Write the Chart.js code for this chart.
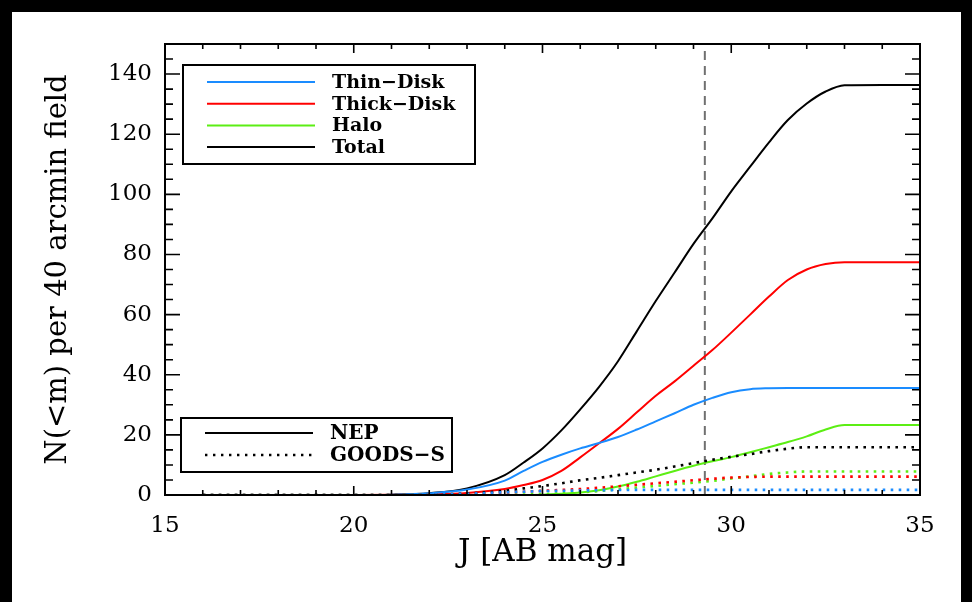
<!DOCTYPE html>
<html>
<head>
<meta charset="utf-8">
<script src="https://cdn.jsdelivr.net/npm/chart.js@4.4.1/dist/chart.umd.min.js"></script>
<style>
  html, body { margin: 0; padding: 0; background: #fff; overflow: hidden; }
  .bar { position: fixed; background: #000; }
  #barTop { left: 0; top: 0; width: 100%; height: 12px; }
  #barLeft { left: 0; top: 0; width: 12px; height: 100%; }
  #barRight { left: 961px; top: 0; right: 0; height: 100%; }
  #frame { position: absolute; left: 12px; top: 12px; width: 949px; height: 590px; }
  canvas { display: block; }
</style>
</head>
<body>
<div class="bar" id="barTop"></div>
<div class="bar" id="barLeft"></div>
<div class="bar" id="barRight"></div>
<div id="frame"><canvas id="countsChart" width="949" height="590"></canvas></div>
<script>
// Cumulative star counts N(<m) per 40 arcmin field, J band

const magnitudes = [16, 20, 21, 22, 23, 24, 24.5, 25, 25.5, 26, 26.5, 27, 27.5, 28, 28.5, 29, 29.5, 30, 30.5, 31, 31.5, 32, 32.5, 33, 34, 35];

// NEP field (solid)
const nepThin  = [0, 0, 0.1, 0.6, 1.8, 4.8, 8, 11, 13.4, 15.5, 17.3, 19.3, 21.8, 24.5, 27.2, 30, 32.3, 34.2, 35.2, 35.5, 35.6, 35.6, 35.6, 35.6, 35.6, 35.6];
const nepThick = [0, 0, 0.05, 0.2, 0.7, 2, 3.3, 5, 8, 12.5, 17.2, 22, 27.5, 33, 37.8, 43, 48.2, 54, 60, 66, 71.5, 75, 76.8, 77.4, 77.4, 77.4];
const nepHalo  = [0, 0, 0, 0, 0, 0, 0, 0.1, 0.4, 0.8, 1.6, 2.8, 4.4, 6.2, 8, 9.7, 11.2, 12.6, 14.2, 15.9, 17.6, 19.5, 21.8, 23.3, 23.3, 23.3];
const nepTotal = [0, 0, 0.1, 0.6, 2.2, 6.6, 10.8, 15.5, 21.5, 28.5, 36, 44.5, 54.5, 64.5, 74, 83.5, 92, 101, 109.2, 117.3, 124.7, 130.2, 134.2, 136.3, 136.4, 136.4];

// GOODS-S field (dotted)
const goodsThin  = [0, 0, 0, 0.1, 0.4, 0.9, 1.1, 1.3, 1.4, 1.5, 1.6, 1.65, 1.7, 1.7, 1.7, 1.7, 1.7, 1.7, 1.7, 1.7, 1.7, 1.7, 1.7, 1.7, 1.7, 1.7];
const goodsThick = [0, 0, 0, 0.05, 0.3, 0.8, 1.1, 1.4, 1.7, 2, 2.4, 2.9, 3.4, 3.9, 4.4, 4.9, 5.4, 5.8, 6, 6.1, 6.1, 6.1, 6.1, 6.1, 6.1, 6.1];
const goodsHalo  = [0, 0, 0, 0, 0, 0.05, 0.15, 0.3, 0.6, 0.9, 1.3, 1.9, 2.5, 3, 3.6, 4.1, 4.7, 5.5, 6.2, 7, 7.5, 7.8, 7.8, 7.8, 7.8, 7.8];
const goodsTotal = [0, 0, 0, 0.1, 0.5, 1.4, 2.2, 3, 3.9, 4.9, 5.7, 6.6, 7.5, 8.4, 9.5, 10.6, 11.7, 12.7, 13.6, 14.6, 15.4, 15.9, 15.9, 15.9, 15.9, 15.9];

// depth limit marked by the dashed line
const limitMag = 29.3;

const xTicks = [15, 20, 25, 30, 35];
const yTicks = [0, 20, 40, 60, 80, 100, 120, 140];

const componentLabels = ["Thin\u2212Disk", "Thick\u2212Disk", "Halo", "Total"];
const componentColors = ["#1a8cff", "#ff0000", "#5cee14", "#000000"];
const fieldLabels = ["NEP", "GOODS\u2212S"];

const SERIF = "'DejaVu Serif', 'Liberation Serif', serif";

function toPoints(values) {
  return magnitudes.map((m, i) => ({ x: m, y: values[i] }));
}

function makeDataset(values, color, dotted) {
  return {
    data: toPoints(values),
    borderColor: color,
    borderWidth: dotted ? 2.6 : 2,
    borderDash: dotted ? [2.6, 5.4] : [],
    pointRadius: 0,
    cubicInterpolationMode: "monotone",
    fill: false,
  };
}

// dashed limit line, drawn under the curves
const limitLine = {
  id: "limitLine",
  beforeDatasetsDraw(chart) {
    const { ctx, chartArea, scales } = chart;
    const x = scales.x.getPixelForValue(limitMag);
    ctx.save();
    ctx.strokeStyle = "#707070";
    ctx.lineWidth = 2;
    ctx.setLineDash([9, 6]);
    ctx.beginPath();
    ctx.moveTo(x, chartArea.bottom);
    ctx.lineTo(x, chartArea.top);
    ctx.stroke();
    ctx.restore();
  },
};

// box frame with inward ticks on all four sides
const axisFrame = {
  id: "axisFrame",
  afterDatasetsDraw(chart) {
    const { ctx, chartArea: a, scales } = chart;
    ctx.save();
    ctx.strokeStyle = "#000";
    ctx.lineWidth = 2;
    ctx.setLineDash([]);
    ctx.strokeRect(a.left, a.top, a.right - a.left, a.bottom - a.top);

    ctx.lineWidth = 1.6;
    ctx.beginPath();
    for (let v = 15; v <= 35; v += 1) {
      const x = scales.x.getPixelForValue(v);
      const len = xTicks.includes(v) ? 9 : 5;
      ctx.moveTo(x, a.bottom); ctx.lineTo(x, a.bottom - len);
      ctx.moveTo(x, a.top); ctx.lineTo(x, a.top + len);
    }
    for (let v = 0; v <= 150; v += 5) {
      const y = scales.y.getPixelForValue(v);
      const len = yTicks.includes(v) ? 15 : 8;
      ctx.moveTo(a.left, y); ctx.lineTo(a.left + len, y);
      ctx.moveTo(a.right, y); ctx.lineTo(a.right - len, y);
    }
    ctx.stroke();
    ctx.restore();
  },
};

function drawLegendBox(ctx, box, rows) {
  ctx.fillStyle = "#fff";
  ctx.fillRect(box.x, box.y, box.w, box.h);
  ctx.strokeStyle = "#000";
  ctx.lineWidth = 2;
  ctx.setLineDash([]);
  ctx.strokeRect(box.x, box.y, box.w, box.h);

  ctx.font = "bold " + box.fontSize + "px " + SERIF;
  ctx.textBaseline = "middle";
  ctx.textAlign = "left";
  rows.forEach((row, i) => {
    const y = box.y + box.first + i * box.step;
    ctx.strokeStyle = row.color;
    ctx.lineWidth = row.dotted ? 2.4 : 2;
    ctx.setLineDash(row.dotted ? [2.4, 5.6] : []);
    ctx.beginPath();
    ctx.moveTo(box.x + 24, y);
    ctx.lineTo(box.x + 132, y);
    ctx.stroke();
    ctx.fillStyle = "#000";
    ctx.fillText(row.label, box.x + 149, y + 1);
  });
}

const legendBoxes = {
  id: "legendBoxes",
  afterDraw(chart) {
    const ctx = chart.ctx;
    ctx.save();
    drawLegendBox(
      ctx,
      { x: 171, y: 53, w: 292, h: 99, first: 17, step: 21.7, fontSize: 19 },
      componentLabels.map((label, i) => ({ label, color: componentColors[i], dotted: false }))
    );
    drawLegendBox(
      ctx,
      { x: 169, y: 406, w: 271, h: 54, first: 15, step: 22, fontSize: 20 },
      fieldLabels.map((label, i) => ({ label, color: "#000", dotted: i === 1 }))
    );
    ctx.restore();
  },
};

function setupChart() {
  const canvas = document.getElementById("countsChart");
  if (!canvas) return;

  new Chart(canvas, {
    type: "line",
    data: {
      datasets: [
        makeDataset(goodsThin, componentColors[0], true),
        makeDataset(goodsThick, componentColors[1], true),
        makeDataset(goodsHalo, componentColors[2], true),
        makeDataset(goodsTotal, componentColors[3], true),
        makeDataset(nepThin, componentColors[0], false),
        makeDataset(nepThick, componentColors[1], false),
        makeDataset(nepHalo, componentColors[2], false),
        makeDataset(nepTotal, componentColors[3], false),
      ],
    },
    options: {
      responsive: false,
      animation: false,
      devicePixelRatio: 1,
      layout: { padding: { top: 32, right: 41, left: 0, bottom: 0 } },
      plugins: {
        legend: { display: false },
        tooltip: { enabled: false },
      },
      scales: {
        x: {
          type: "linear",
          min: 15,
          max: 35,
          afterBuildTicks: (scale) => { scale.ticks = xTicks.map((v) => ({ value: v })); },
          afterFit: (scale) => { scale.height = 107; },
          grid: { display: false, drawTicks: false },
          border: { display: false },
          ticks: { color: "#000", padding: 17, maxRotation: 0, font: { family: SERIF, size: 23 } },
          title: {
            display: true,
            text: "J [AB mag]",
            color: "#000",
            font: { family: SERIF, size: 31 },
            padding: { top: 30, bottom: 30 },
          },
        },
        y: {
          type: "linear",
          min: 0,
          max: 150,
          afterBuildTicks: (scale) => { scale.ticks = yTicks.map((v) => ({ value: v })); },
          afterFit: (scale) => { scale.width = 153; },
          grid: { display: false, drawTicks: false },
          border: { display: false },
          ticks: { color: "#000", padding: 13, font: { family: SERIF, size: 23 } },
          title: {
            display: true,
            text: "N(<m) per 40 arcmin field",
            color: "#000",
            font: { family: SERIF, size: 29 },
            padding: { top: 29, bottom: 29 },
          },
        },
      },
    },
    plugins: [limitLine, axisFrame, legendBoxes],
  });
}

document.addEventListener("DOMContentLoaded", setupChart);
</script>
</body>
</html>
